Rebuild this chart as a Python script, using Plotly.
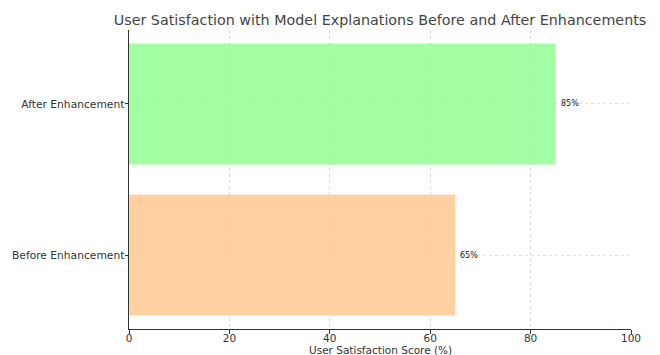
import plotly.graph_objects as go

categories = ["Before Enhancement", "After Enhancement"]
scores = [65, 85]
bar_colors = ["#FFCC99", "#99FF99"]
x_ticks = [0, 20, 40, 60, 80, 100]

W, H = 660, 355
font_family = "DejaVu Sans, sans-serif"

fig = go.Figure()
fig.add_trace(go.Bar(
    y=categories,
    x=scores,
    orientation="h",
    marker=dict(color=bar_colors, line=dict(width=0)),
    opacity=0.9,
    width=0.8,
    hoverinfo="skip",
))

# value labels just past the end of each bar
for cat, val in zip(categories, scores):
    fig.add_annotation(
        x=val, y=cat, xref="x", yref="y",
        text=f"{val}%", showarrow=False,
        xanchor="left", yanchor="middle", xshift=3,
        font=dict(family=font_family, size=8, color="#222222"),
    )

# x-axis title, placed below the tick labels
fig.add_annotation(
    text="User Satisfaction Score (%)",
    x=0.5, xref="paper", xanchor="center",
    y=0, yref="paper", yanchor="top", yshift=-13,
    showarrow=False,
    font=dict(family=font_family, size=10.5, color="#333333"),
)

fig.update_layout(
    width=W, height=H,
    margin=dict(l=129, r=29, t=30, b=26, autoexpand=False),
    paper_bgcolor="white", plot_bgcolor="white",
    showlegend=False,
    font=dict(family=font_family, size=10.5, color="#333333"),
    title=dict(
        text="User Satisfaction with Model Explanations Before and After Enhancements",
        x=0.5, xref="paper", xanchor="center",
        y=1 - 20 / H, yref="container", yanchor="middle",
        font=dict(family=font_family, size=14.3, color="#444444"),
    ),
)

fig.update_xaxes(
    range=[0, 100], tickvals=x_ticks, ticktext=[str(t) for t in x_ticks],
    showgrid=True, gridcolor="#d9d9d9", gridwidth=0.8, griddash="dot",
    zeroline=False,
    showline=True, linecolor="#333333", linewidth=1,
    ticks="outside", ticklen=3.5, tickcolor="#333333", tickwidth=1,
    ticklabelstandoff=-4,
    tickfont=dict(size=10.5, color="#333333"),
    automargin=False,
)
fig.update_yaxes(
    range=[-0.49, 1.49],
    showgrid=True, gridcolor="#e3e3e3", gridwidth=0.8, griddash="dot",
    zeroline=False,
    showline=True, linecolor="#333333", linewidth=1,
    ticks="outside", ticklen=3.5, tickcolor="#333333", tickwidth=1,
    ticklabelstandoff=-2,
    tickfont=dict(size=10.7, color="#333333"),
    automargin=False,
)

fig.write_html("out.html")
